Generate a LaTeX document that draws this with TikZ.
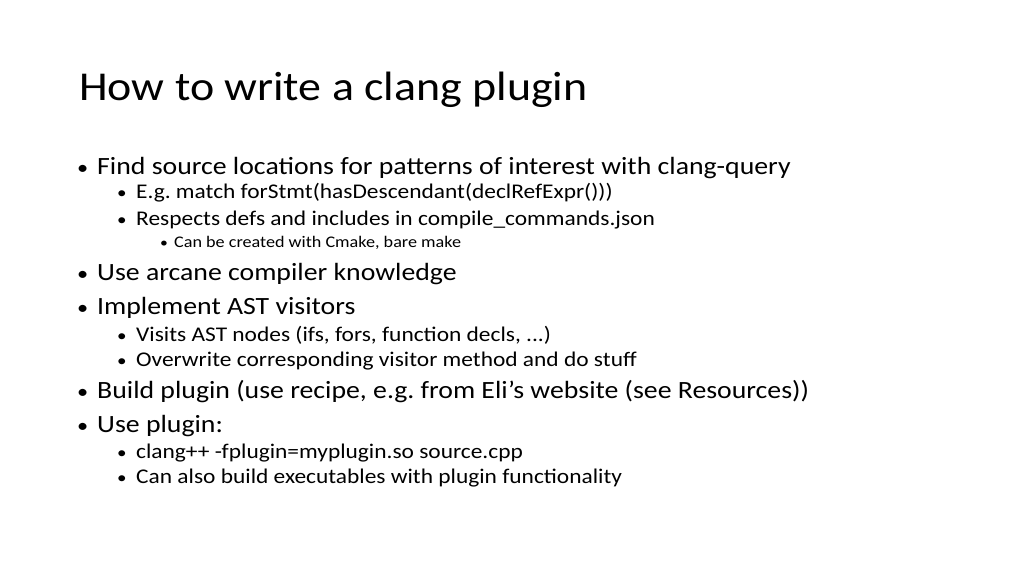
\documentclass[tikz,border=0pt]{standalone}
\usepackage{fontspec}
\setmainfont[FakeStretch=1.12]{Carlito}
\frenchspacing
\begin{document}
\begin{tikzpicture}[x=1pt,y=-1pt,
    lvlone/.style={anchor=base west,inner sep=0pt,font=\fontsize{24.8}{29}\selectfont},
    lvltwo/.style={anchor=base west,inner sep=0pt,font=\fontsize{20.9}{25}\selectfont},
    lvlthree/.style={anchor=base west,inner sep=0pt,font=\fontsize{16.2}{19}\selectfont},
    dot/.style={anchor=base west,inner sep=0pt}]
    \useasboundingbox (0,0) rectangle (1024,576);
    % title
    \node[anchor=base west,inner sep=0pt,font=\fontsize{41}{48}\selectfont] (title) at (79,100) {How to write a clang plugin};
    % first level
    \foreach \y/\t [count=\i] in {174/Find source locations for patterns of interest with clang-query,
        280/Use arcane compiler knowledge,
        314/Implement AST visitors,
        398/{Build plugin (use recipe, e.g. from Eli’s website (see Resources))},
        432/Use plugin:}{
      \node[dot,font=\fontsize{20}{24}\selectfont] (b\i) at (77,\y) {\textbullet};
      \node[lvlone] (one\i) at (97,\y) {\t};}
    % second level
    \foreach \y/\t [count=\i] in {198/{E.g. match forStmt(hasDescendant(declRefExpr()))},
        225/Respects defs and includes in compile\_commands.json,
        341/{Visits AST nodes (ifs, fors, function decls, ...)},
        366/Overwrite corresponding visitor method and do stuff,
        458/clang++ -fplugin=myplugin.so source.cpp,
        483/Can also build executables with plugin functionality}{
      \node[dot,font=\fontsize{17}{21}\selectfont] (c\i) at (117,\y) {\textbullet};
      \node[lvltwo] (two\i) at (136,\y) {\t};}
    % third level
    \node[dot,font=\fontsize{14}{17}\selectfont] (d1) at (160,247) {\textbullet};
    \node[lvlthree] (three1) at (174,247) {Can be created with Cmake, bare make};
\end{tikzpicture}
\end{document}
